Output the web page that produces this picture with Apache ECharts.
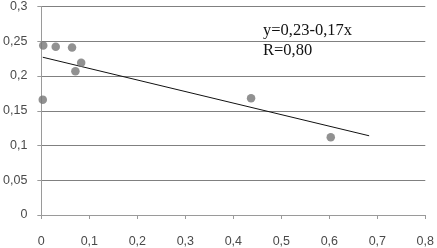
<!DOCTYPE html>
<html>
<head>
<meta charset="utf-8">
<script src="https://cdn.jsdelivr.net/npm/echarts@6/dist/echarts.min.js"></script>
<style>
  html, body { margin: 0; padding: 0; background: #fff; }
  #chart { width: 437px; height: 248px; }
</style>
</head>
<body>
<div id="chart"></div>
<script>
// scatter points
const pointsX = [0.004, 0.003, 0.030, 0.064, 0.071, 0.083, 0.437, 0.603];
const pointsY = [0.244, 0.166, 0.242, 0.241, 0.207, 0.219, 0.168, 0.112];
// trend line ends
const trendX = [0.003, 0.683];
const trendY = [0.227, 0.114];
const equationLines = ['y=0,23-0,17x', 'R=0,80'];

const comma = v => String(v).replace('.', ',');

const chart = echarts.init(document.getElementById('chart'));
chart.setOption({
  animation: false,
  grid: { left: 39, right: 9, top: 5, bottom: 31 },
  xAxis: {
    type: 'value', min: 0, max: 0.8, interval: 0.1,
    axisLine: { show: true, lineStyle: { color: '#9a9a9a' } },
    axisTick: { show: true, length: 4, lineStyle: { color: '#9a9a9a' } },
    splitLine: { show: false },
    axisLabel: { margin: 20, color: '#4a4a4a', fontFamily: 'Liberation Sans', fontSize: 12.5, formatter: comma }
  },
  yAxis: {
    type: 'value', min: 0, max: 0.3, interval: 0.05,
    axisLine: { show: true, lineStyle: { color: '#9a9a9a' } },
    axisTick: { show: true, length: 4, lineStyle: { color: '#9a9a9a' } },
    splitLine: { show: true, lineStyle: { color: '#808080', width: 1 } },
    axisLabel: { margin: 14, color: '#4a4a4a', fontFamily: 'Liberation Sans', fontSize: 12.5, formatter: comma }
  },
  series: [
    {
      type: 'line',
      data: trendX.map((x, i) => [x, trendY[i]]),
      symbol: 'none',
      lineStyle: { color: '#111', width: 1 },
      z: 2
    },
    {
      type: 'scatter',
      data: pointsX.map((x, i) => [x, pointsY[i]]),
      symbolSize: 8.5,
      itemStyle: { color: '#767676' },
      z: 3
    }
  ],
  graphic: [{
    type: 'text',
    left: 263, top: 21,
    style: {
      text: equationLines.join('\n'),
      fontFamily: 'Liberation Serif',
      fontSize: 16.5,
      lineHeight: 20,
      fill: '#111'
    }
  }]
});
</script>
</body>
</html>
